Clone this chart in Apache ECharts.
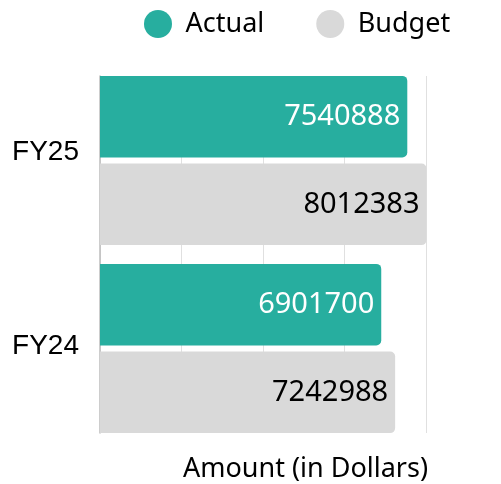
<!DOCTYPE html>
<html>
<head>
<meta charset="utf-8">
<script src="https://cdn.jsdelivr.net/npm/echarts@6/dist/echarts.min.js"></script>
<style>
  html, body { margin: 0; padding: 0; background: #fff; }
  #chart { width: 501px; height: 484px; }
</style>
</head>
<body>
<div id="chart"></div>
<script>
const categories = ["FY25", "FY24"];
const actualValues = [7540888, 6901700];
const budgetValues = [8012383, 7242988];
const axisTicks = [0, 2000000, 4000000, 6000000, 8000000];

const mainColor = "#27ae9f";
const budgetColor = "#d9d9d9";
const font = "Noto Sans";

// small upward nudges of the category labels, as in the reference
const labelLift = { FY25: 16, FY24: 5 };
const labelRich = {};
categories.forEach((c) => {
  labelRich[c] = {
    fontFamily: "Liberation Sans",
    fontSize: 28,
    color: "#000",
    padding: [0, 0, labelLift[c] || 0, 0],
  };
});

const chart = echarts.init(document.getElementById("chart"));

const option = {
  animation: false,
  legend: {
    left: 139,
    top: 5,
    icon: "circle",
    itemWidth: 45,
    itemHeight: 28,
    itemGap: 52,
    textStyle: { fontFamily: font, fontSize: 27, color: "#000" },
  },
  grid: [
    { left: 100, right: 75, top: 66.5, bottom: 41.5 },
    { left: 100, right: 75, top: 76, bottom: 51 },
  ],
  xAxis: [
    {
      gridIndex: 0,
      type: "value",
      min: axisTicks[0],
      max: axisTicks[axisTicks.length - 1],
      interval: axisTicks[1] - axisTicks[0],
      axisLine: { show: false },
      axisTick: { show: false },
      axisLabel: { show: false },
      splitLine: { show: false },
    },
    {
      // only for the grid lines and the axis title
      gridIndex: 1,
      type: "value",
      min: axisTicks[0],
      max: axisTicks[axisTicks.length - 1],
      interval: axisTicks[1] - axisTicks[0],
      axisLine: { show: false },
      axisTick: { show: false },
      axisLabel: { show: false },
      splitLine: { show: true, lineStyle: { color: "#e0e0e0", width: 1 } },
      name: "Amount (in Dollars)",
      nameLocation: "end",
      nameGap: 2,
      nameTextStyle: {
        fontFamily: font,
        fontSize: 27,
        color: "#000",
        align: "right",
        verticalAlign: "top",
        padding: [23, 0, 0, 0],
      },
    },
  ],
  yAxis: [
    {
      gridIndex: 0,
      type: "category",
      inverse: true,
      data: categories,
      axisLine: { show: false },
      axisTick: { show: false },
      axisLabel: {
        margin: 21,
        formatter: (v) => "{" + v + "|" + v + "}",
        rich: labelRich,
      },
    },
    {
      gridIndex: 1,
      type: "value",
      axisLine: { show: true, lineStyle: { color: "#bdbdbd", width: 1.5 } },
      axisTick: { show: false },
      axisLabel: { show: false },
      splitLine: { show: false },
    },
  ],
  series: [
    {
      name: "Actual",
      type: "bar",
      xAxisIndex: 0,
      yAxisIndex: 0,
      data: actualValues,
      itemStyle: { color: mainColor, borderRadius: [0, 5, 5, 0] },
      barGap: "7.4%",
      barCategoryGap: "10%",
      label: {
        show: true,
        position: "insideRight",
        distance: 7,
        fontFamily: font,
        fontSize: 29,
        color: "#fff",
      },
    },
    {
      name: "Budget",
      type: "bar",
      xAxisIndex: 0,
      yAxisIndex: 0,
      data: budgetValues,
      clip: false,
      itemStyle: { color: budgetColor, borderRadius: [0, 5, 5, 0] },
      barGap: "7.4%",
      barCategoryGap: "10%",
      label: {
        show: true,
        position: "insideRight",
        distance: 7,
        fontFamily: font,
        fontSize: 29,
        color: "#000",
      },
    },
  ],
};

chart.setOption(option);

window.addEventListener("resize", () => {
  chart.resize();
});
</script>
</body>
</html>
